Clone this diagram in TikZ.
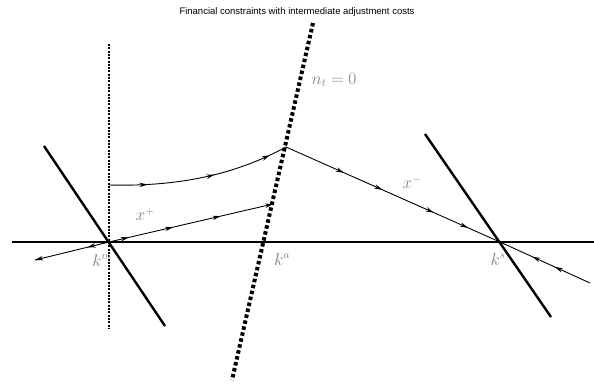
\documentclass[tikz,border=0pt]{standalone}
\usepackage{fontspec}
\setmainfont{Liberation Sans}
\usetikzlibrary{arrows.meta,decorations.markings}
\tikzset{
  asse/.style={line width=2.8pt},
  vincolo/.style={line width=2.4pt},
  traiettoria/.style={line width=0.9pt},
  punta/.style={postaction={decorate,decoration={markings,
      mark=at position #1 with {\arrow{Stealth[length=8pt,width=4.5pt]}}}}},
  etichetta/.style={text=black!50,font=\fontsize{16}{18}\selectfont}
}
\begin{document}
\begin{tikzpicture}[x=1pt,y=-1pt]
    \useasboundingbox (0,0) rectangle (594,383);
    % --- punti notevoli -----------------------------------------------
    \coordinate (km)   at (109,242);
    \coordinate (ks)   at (500,242);
    \coordinate (ka)   at (263,242);
    \coordinate (picco) at (286,147);
    \coordinate (salto) at (273,204);
    \coordinate (avvio) at (109,185);
    \coordinate (coda)  at (35,260);
    \coordinate (fine)  at (590,283);
    % --- assi e vincoli -----------------------------------------------
    \draw[asse] (12,242) coordinate (sx) -- (594,242) coordinate (dx);
    \draw[line width=1.5pt,dash pattern=on 2pt off 1.3pt]
        (109,44) coordinate (vsu) -- (109,328) coordinate (vgiu);
    \draw[line width=4pt,dash pattern=on 3.5pt off 2.6pt]
        (313,23) coordinate (nsu) -- (232,380) coordinate (ngiu);
    \draw[vincolo] (44,146) coordinate (asu) -- (165,326) coordinate (agiu);
    \draw[vincolo] (425,134) coordinate (bsu) -- (551,317) coordinate (bgiu);
    % --- traiettorie --------------------------------------------------
    \draw[traiettoria,punta=0.21,punta=0.58,punta=0.9]
        (avvio) .. controls (185,187) and (240,172) .. (picco);
    \draw[traiettoria,punta=0.12,punta=0.39,punta=0.68,punta=1] (km) -- (salto);
    \draw[traiettoria,punta=0.29,punta=1] (km) -- (coda);
    \draw[traiettoria,punta=0.27,punta=0.45,punta=0.69,punta=0.85] (picco) -- (ks);
    \draw[traiettoria,punta=0.39,punta=0.64] (fine) -- (ks);
    % --- etichette ----------------------------------------------------
    \node[font=\fontsize{9.5}{11}\selectfont] (titolo) at (297,12)
        {Financial constraints with intermediate adjustment costs};
    \node[etichetta] (lkm) at (102,260) {$k^m$};
    \node[etichetta] (lka) at (282,259) {$k^a$};
    \node[etichetta] (lks) at (498,259) {$k^s$};
    \node[etichetta] (lxp) at (145,214) {$x^+$};
    \node[etichetta] (lxm) at (412,182) {$x^-$};
    \node[etichetta] (lnt) at (334,80)  {$n_t = 0$};
\end{tikzpicture}
\end{document}
